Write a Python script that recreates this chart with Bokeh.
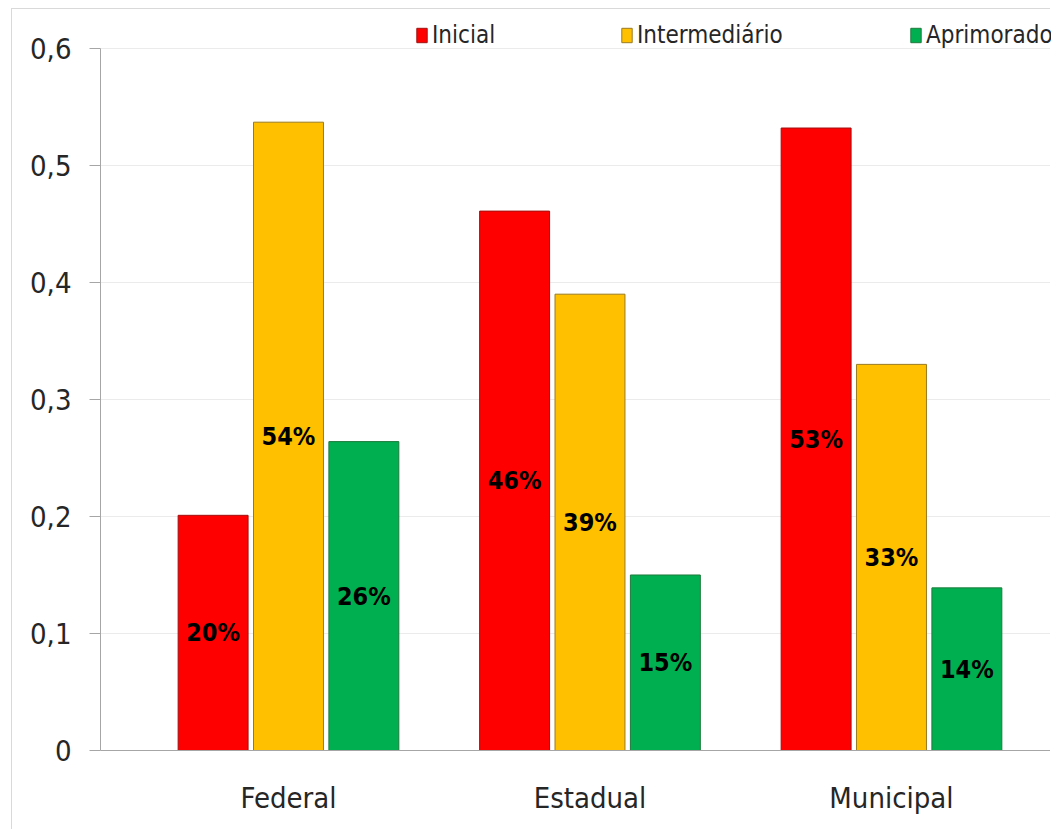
from bokeh.plotting import figure
from bokeh.models import ColumnDataSource, FixedTicker, Legend, LegendItem
from bokeh.transform import dodge
from bokeh.core.properties import value
from bokeh.embed import file_html
from bokeh.resources import INLINE

# ---- data ----
categories = ["Federal", "Estadual", "Municipal"]
series = ["Inicial", "Intermediário", "Aprimorado"]
inicial = [0.201, 0.461, 0.532]
intermediario = [0.537, 0.390, 0.330]
aprimorado = [0.264, 0.150, 0.139]
y_ticks = [0, 0.1, 0.2, 0.3, 0.4, 0.5, 0.6]
y_tick_labels = ["0", "0,1", "0,2", "0,3", "0,4", "0,5", "0,6"]

# ---- style ----
colors = ["#FF0000", "#FFC000", "#00B050"]
outlines = ["#A01010", "#9A7A20", "#1E7A3C"]
offsets = [-0.25, 0.0, 0.25]
legend_x = [315, 520, 809]
FONT = "Liberation Sans Narrow, Arial Narrow, DejaVu Sans Condensed, sans-serif"
AXIS_COLOR = "#a6a6a6"
TEXT_COLOR = "#262626"

p = figure(width=1039, height=821,
           x_range=(-0.6235, 2.5307), y_range=(0, 0.6333),
           output_backend="svg", toolbar_location=None,
           min_border_left=88, min_border_right=0,
           min_border_top=0, min_border_bottom=80)
p.styles = {"margin-left": "11px", "margin-top": "8px",
            "border-left": "1px solid #d9d9d9",
            "border-top": "1px solid #d9d9d9"}
p.outline_line_color = None
p.background_fill_color = "white"
p.border_fill_color = "white"

# axes
p.yaxis.ticker = FixedTicker(ticks=y_ticks)
p.yaxis.major_label_overrides = {t: l for t, l in zip(y_ticks, y_tick_labels)}
p.yaxis.bounds = (0, 0.6)
p.yaxis.axis_line_color = AXIS_COLOR
p.yaxis.major_tick_line_color = AXIS_COLOR
p.yaxis.major_tick_out = 11
p.yaxis.major_tick_in = 0
p.yaxis.minor_tick_line_color = None
p.yaxis.major_label_standoff = 18
p.yaxis.major_label_text_font = FONT
p.yaxis.major_label_text_font_size = "29px"
p.yaxis.major_label_text_color = TEXT_COLOR

p.xaxis.ticker = FixedTicker(ticks=list(range(len(categories))))
p.xaxis.major_label_overrides = {i: c for i, c in enumerate(categories)}
p.xaxis.axis_line_color = AXIS_COLOR
p.xaxis.major_tick_line_color = None
p.xaxis.major_tick_out = 0
p.xaxis.major_tick_in = 0
p.xaxis.minor_tick_line_color = None
p.xaxis.major_label_standoff = 30
p.xaxis.major_label_text_font = FONT
p.xaxis.major_label_text_font_size = "29px"
p.xaxis.major_label_text_color = TEXT_COLOR

p.xgrid.visible = False
p.ygrid.ticker = FixedTicker(ticks=y_ticks[1:])
p.ygrid.grid_line_color = "#ebebeb"
p.ygrid.grid_line_width = 1

# bars and labels
for i, vals in enumerate([inicial, intermediario, aprimorado]):
    src = ColumnDataSource(dict(
        x=list(range(len(categories))),
        top=vals,
        mid=[v / 2 for v in vals],
        lbl=[f"{round(v * 100)}%" for v in vals],
    ))
    r = p.vbar(x=dodge("x", offsets[i], range=p.x_range), top="top", width=0.232,
               fill_color=colors[i], line_color=outlines[i], line_width=1, source=src)
    p.text(x=dodge("x", offsets[i], range=p.x_range), y="mid", text="lbl", source=src,
           text_align="center", text_baseline="middle",
           text_font=value(FONT), text_font_size="25px", text_font_style="bold",
           text_color="black")
    leg = Legend(items=[LegendItem(label=series[i], renderers=[r])],
                 location=(legend_x[i], 701), orientation="horizontal",
                 glyph_width=13, glyph_height=18, label_standoff=4,
                 padding=0, margin=0, spacing=0,
                 border_line_color=None, background_fill_alpha=0,
                 label_text_font=FONT, label_text_font_size="24px",
                 label_text_color=TEXT_COLOR)
    p.add_layout(leg)

open("out.html", "w").write(file_html(p, INLINE))
